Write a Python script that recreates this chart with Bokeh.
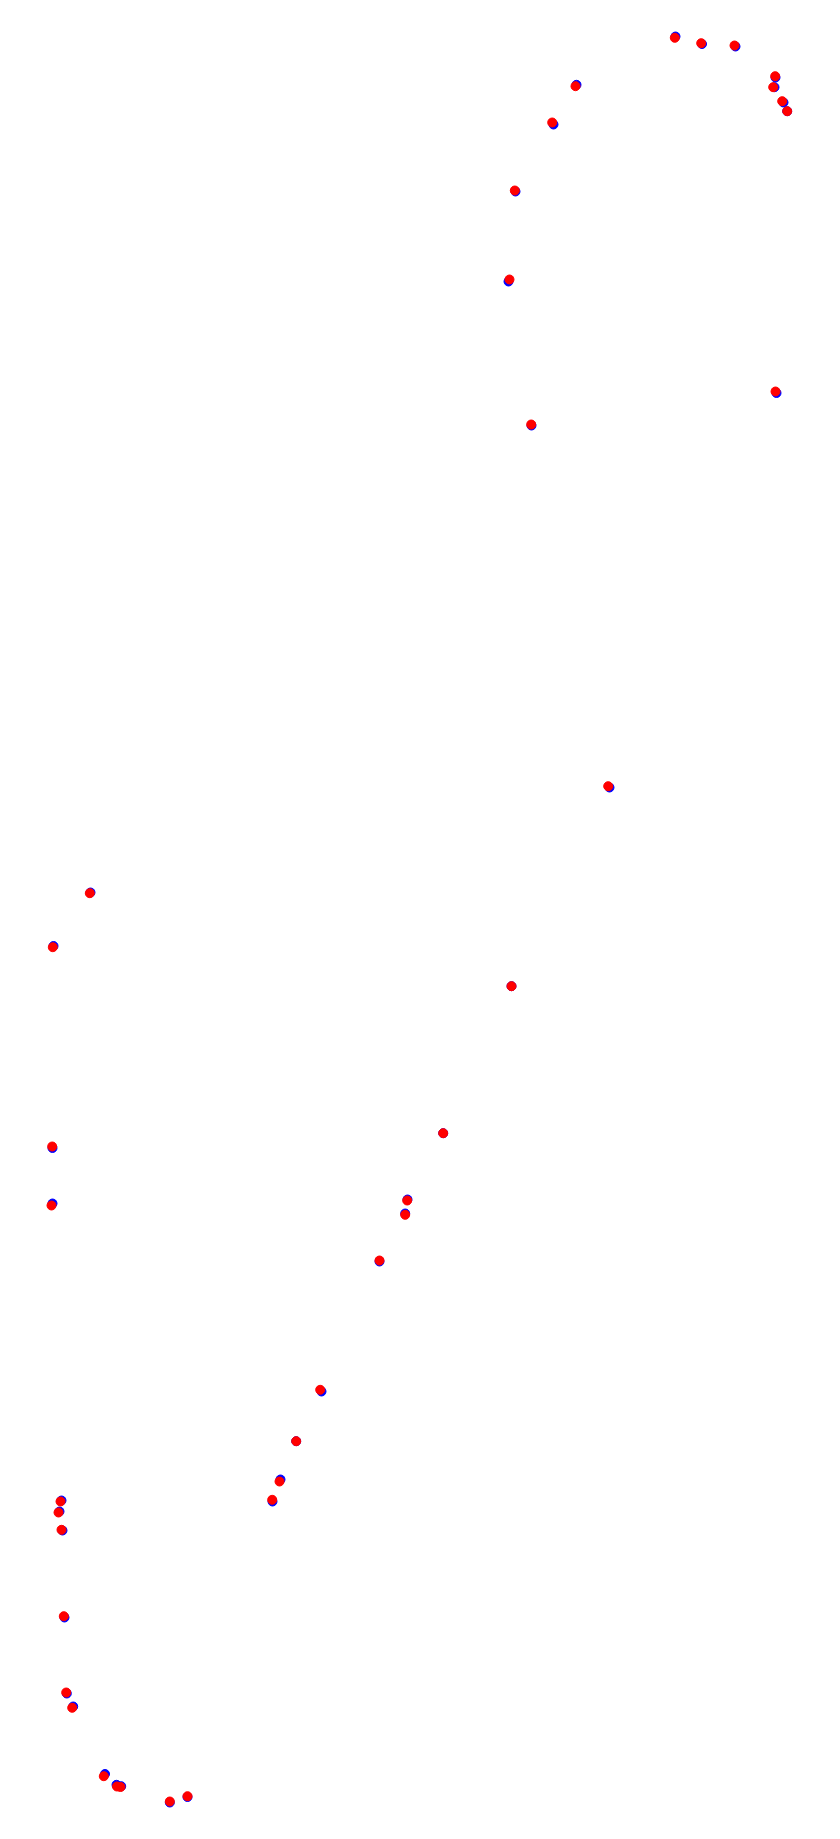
from bokeh.plotting import figure
from bokeh.models import Range1d
from bokeh.embed import file_html
from bokeh.resources import INLINE

# Values (horizontal / vertical position units)
x_red = [666.3, 692.7, 726.0, 766.7, 764.7, 773.7, 778.7, 767.0, 567.0, 543.7,
         506.3, 501.0, 522.7, 599.7, 503.0, 434.7, 398.7, 396.7, 371.0, 311.7,
         287.7, 271.0, 263.7, 81.3, 44.3, 43.7, 43.0, 52.0, 50.0, 53.0,
         55.3, 57.7, 63.7, 95.3, 108.5, 112.0, 161.3, 179.0]
y_red = [29.3, 34.7, 37.0, 67.7, 78.7, 92.7, 102.7, 383.0, 77.7, 114.0,
         182.0, 271.0, 416.0, 777.7, 977.7, 1124.7, 1192.0, 1206.3, 1252.0, 1381.3,
         1432.7, 1473.0, 1491.3, 884.7, 938.7, 1138.0, 1197.0, 1493.0, 1504.0, 1521.3,
         1607.7, 1684.0, 1699.3, 1767.7, 1778.0, 1778.5, 1793.0, 1787.7]

x_blue = [667.0, 693.5, 727.0, 767.0, 766.0, 775.0, 778.7, 768.0, 568.0, 545.0,
          507.0, 500.0, 523.0, 601.0, 503.0, 434.7, 399.0, 396.7, 371.0, 313.0,
          287.7, 272.0, 264.0, 82.0, 45.0, 44.0, 44.0, 53.0, 51.0, 54.0,
          56.0, 58.3, 64.7, 96.5, 108.0, 112.7, 161.3, 179.0]
y_blue = [28.0, 35.5, 38.0, 69.0, 78.7, 94.0, 102.7, 384.5, 76.3, 116.0,
          183.0, 273.0, 417.0, 779.0, 977.7, 1124.7, 1191.0, 1205.0, 1253.0, 1383.0,
          1432.7, 1471.0, 1493.0, 884.0, 937.5, 1139.5, 1195.0, 1492.0, 1503.0, 1522.0,
          1609.0, 1685.0, 1698.0, 1765.5, 1776.3, 1777.7, 1794.0, 1788.5]

W, H = 824, 1823

p = figure(width=W, height=H, output_backend="svg", toolbar_location=None,
           x_range=Range1d(-8, W - 8), y_range=Range1d(H - 8, -8), min_border=0)
p.axis.visible = False
p.grid.visible = False
p.outline_line_color = None
p.background_fill_color = "white"
p.border_fill_color = "white"

p.scatter(x_blue, y_blue, size=9, color="blue")
p.scatter(x_red, y_red, size=9, color="red")

open("out.html", "w").write(file_html(p, INLINE))
